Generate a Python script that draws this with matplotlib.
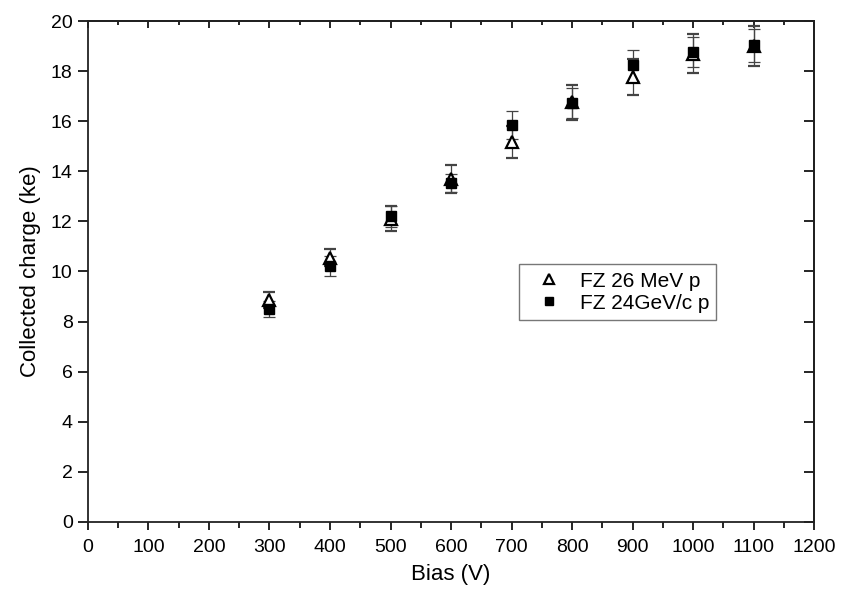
import matplotlib.pyplot as plt
from matplotlib.lines import Line2D
from matplotlib.ticker import MultipleLocator

plt.rcParams['font.family'] = ['Liberation Sans', 'DejaVu Sans']

# Tensión de polarización (V)
bias = [300, 400, 500, 600, 700, 800, 900, 1000, 1100]

# FZ 26 MeV p
q_26mev = [8.88, 10.55, 12.1, 13.7, 15.18, 16.75, 17.77, 18.69, 19.0]
err_26mev = [0.32, 0.35, 0.5, 0.55, 0.64, 0.7, 0.73, 0.78, 0.8]

# FZ 24GeV/c p
q_24gev = [8.49, 10.2, 12.2, 13.55, 15.84, 16.71, 18.23, 18.77, 19.03]
err_24gev = [0.32, 0.4, 0.42, 0.36, 0.56, 0.6, 0.63, 0.6, 0.67]

labels = ['FZ 26 MeV p', 'FZ 24GeV/c p']

fig = plt.figure(figsize=(8.41, 5.90), dpi=100)
ax = fig.add_axes([0.1046, 0.1153, 0.8634, 0.8491])

ax.errorbar(bias, q_26mev, yerr=err_26mev, fmt='^', mfc='white', mec='black',
            mew=1.6, ms=8, ecolor='#444444', elinewidth=0.9, capsize=4,
            capthick=0.9)
ax.errorbar(bias, q_24gev, yerr=err_24gev, fmt='s', mfc='black', mec='black',
            ms=7, ecolor='#444444', elinewidth=0.9, capsize=4,
            capthick=0.9)

ax.set_xlim(0, 1200)
ax.set_ylim(0, 20)
ax.xaxis.set_major_locator(MultipleLocator(100))
ax.xaxis.set_minor_locator(MultipleLocator(50))
ax.yaxis.set_major_locator(MultipleLocator(2))

ax.tick_params(axis='x', which='major', direction='out', length=6, width=1.2,
               labelsize=14, pad=6)
ax.tick_params(axis='x', which='minor', direction='out', length=4, width=1.2)
ax.tick_params(axis='y', which='major', direction='out', length=7, width=1.2,
               labelsize=14, pad=4)
for s in ax.spines.values():
    s.set_linewidth(1.3)
    s.set_color('#222222')

# Ejes superior y derecho con marcas hacia dentro
top = ax.secondary_xaxis('top')
top.xaxis.set_major_locator(MultipleLocator(100))
top.xaxis.set_minor_locator(MultipleLocator(50))
top.tick_params(which='major', direction='in', length=5, width=1.2, labeltop=False)
top.tick_params(which='minor', direction='in', length=3, width=1.2)
top.spines['top'].set_linewidth(1.3)

right = ax.secondary_yaxis('right')
right.yaxis.set_major_locator(MultipleLocator(2))
right.tick_params(which='major', direction='in', length=7, width=1.2, labelright=False)
right.spines['right'].set_linewidth(1.3)

ax.set_xlabel('Bias (V)', fontsize=16, labelpad=6)
ax.set_ylabel('Collected charge (ke)', fontsize=16, labelpad=7)

# Leyenda solo con los marcadores (sin barras de error)
handles = [
    Line2D([], [], ls='none', marker='^', mfc='white', mec='black', mew=1.6, ms=7),
    Line2D([], [], ls='none', marker='s', mfc='black', mec='black', ms=6),
]
leg = ax.legend(handles, labels, loc='lower left', bbox_to_anchor=(0.594, 0.403),
                borderaxespad=0, fontsize=15, frameon=True, fancybox=False,
                edgecolor='#555555', handletextpad=0.35, borderpad=0.35,
                labelspacing=0.15, handlelength=2.2)
leg.get_frame().set_linewidth(1.0)

fig.savefig('out.png', dpi=100)
